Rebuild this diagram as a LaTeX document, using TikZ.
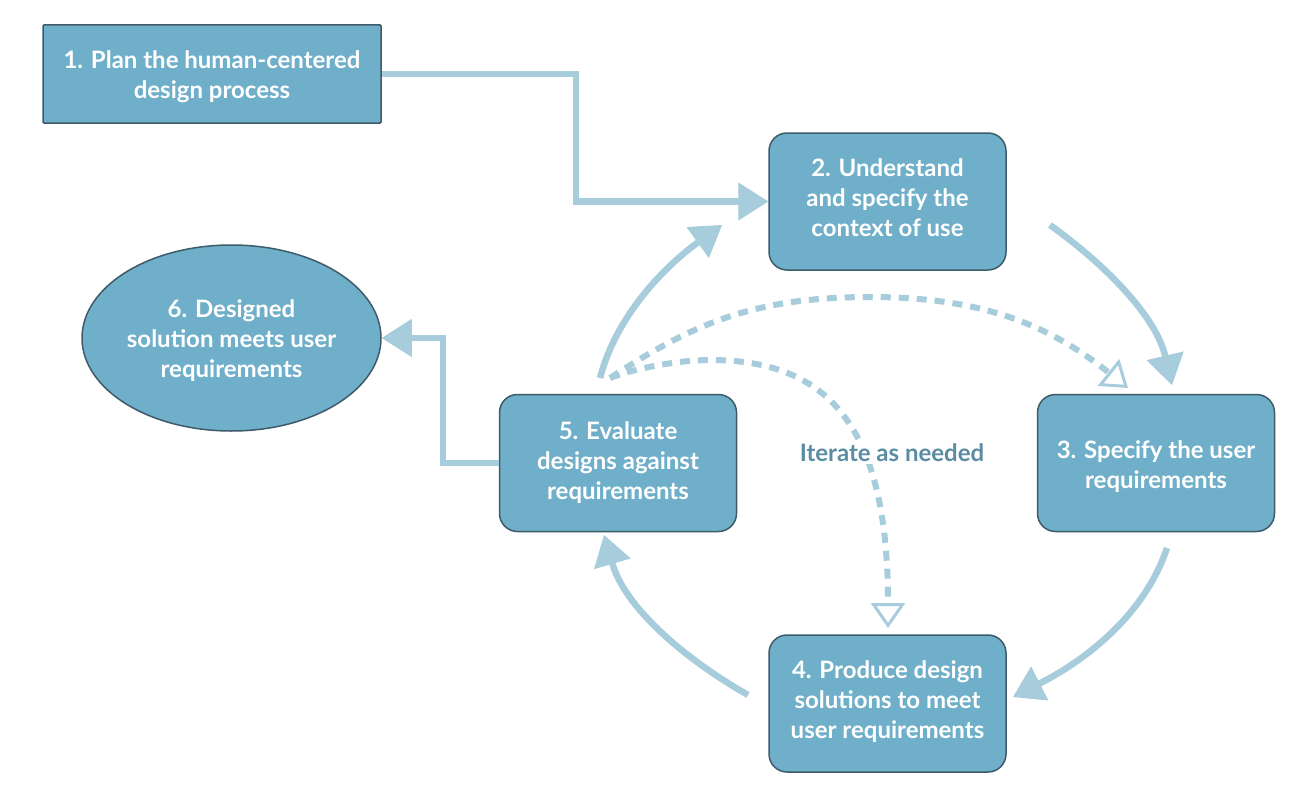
\documentclass[tikz,border=0pt]{standalone}
\usepackage{fontspec}
\setmainfont{Lato}
\usetikzlibrary{arrows.meta,shapes.geometric}
\definecolor{boxfill}{HTML}{70AFC9}
\definecolor{boxline}{HTML}{3E5B69}
\definecolor{arrowc}{HTML}{A7CDDC}
\definecolor{labelc}{HTML}{5A8DA3}
\begin{document}
\begin{tikzpicture}[x=1pt,y=-1pt,
  boxtxt/.style={text=white,font=\fontsize{24}{30}\selectfont\bfseries,align=center,inner sep=0pt},
  boxshape/.style={draw=boxline,line width=1.5pt,fill=boxfill,inner sep=0pt},
  box/.style={boxshape,rounded corners=18pt,minimum width=237pt,minimum height=137pt},
  flow/.style={draw=arrowc,line width=6.5pt,-{Triangle[length=30pt,width=38pt,line width=1pt]}},
  iter/.style={draw=arrowc,line width=6pt,dash pattern=on 10pt off 8pt,-{Triangle[open,length=25pt,width=34pt,line width=3pt]}},
]
\useasboundingbox (0,0) rectangle (1300,800);
\fill[white] (0,0) rectangle (1300,800);

\node[boxshape,rounded corners=1pt,minimum width=338pt,minimum height=98pt] (b1) at (212,74) {};
\node[box] (b2) at (887.5,201.5) {};
\node[box] (b3) at (1156,463) {};
\node[box] (b4) at (887.5,703.5) {};
\node[box] (b5) at (618,463) {};
\node[boxshape,ellipse,minimum width=299pt,minimum height=186pt] (b6) at (231.5,338) {};

\node[boxtxt] (t1) at ([yshift=-3pt]b1.center) {1. Plan the human-centered\\design process};
\node[boxtxt] (t2) at ([yshift=4pt]b2.center) {2. Understand\\and specify the\\context of use};
\node[boxtxt] (t3) at ([yshift=-4pt]b3.center) {3. Specify the user\\requirements};
\node[boxtxt] (t4) at ([yshift=2pt]b4.center) {4. Produce design\\solutions to meet\\user requirements};
\node[boxtxt] (t5) at (b5.center) {5. Evaluate\\designs against\\requirements};
\node[boxtxt] (t6) at ([yshift=-3pt]b6.center) {6. Designed\\solution meets user\\requirements};

% solid connectors
\draw[flow] (b1.east) -- ++(194,0) |- (b2.west);
\draw[flow] (b5.west) -- ++(-56,0) |- (b6.east);

\coordinate (a2s) at (600,378); \coordinate (a2e) at (722,225);
\coordinate (a3s) at (1050,225); \coordinate (a3e) at (1172,385);
\coordinate (a4s) at (1167,548); \coordinate (a4e) at (1013,697);
\coordinate (a5s) at (748,695); \coordinate (a5e) at (604,535);
\draw[flow] (a2s) .. controls (617,313) and (668,264) .. (a2e);
\draw[flow] (a3s) .. controls (1107,266) and (1156,317) .. (a3e);
\draw[flow] (a4s) .. controls (1143,619) and (1080,663) .. (a4e);
\draw[flow] (a5s) .. controls (683,658) and (625,607) .. (a5e);

% dashed iteration connectors
\coordinate (ds) at (610,378);
\coordinate (d1e) at (1128,388);
\coordinate (d2e) at (888,628);
\draw[iter] (ds) .. controls (690,326) and (750,297) .. (870,297) .. controls (980,297) and (1048,324) .. (d1e);
\draw[iter] (ds) .. controls (635,368) and (680,360) .. (710,360) .. controls (830,360) and (888,428) .. (d2e);

\node[fill=white,text=labelc,font=\fontsize{24}{30}\selectfont\bfseries,inner sep=2pt] (lbl) at (892,453) {Iterate as needed};
\end{tikzpicture}
\end{document}
